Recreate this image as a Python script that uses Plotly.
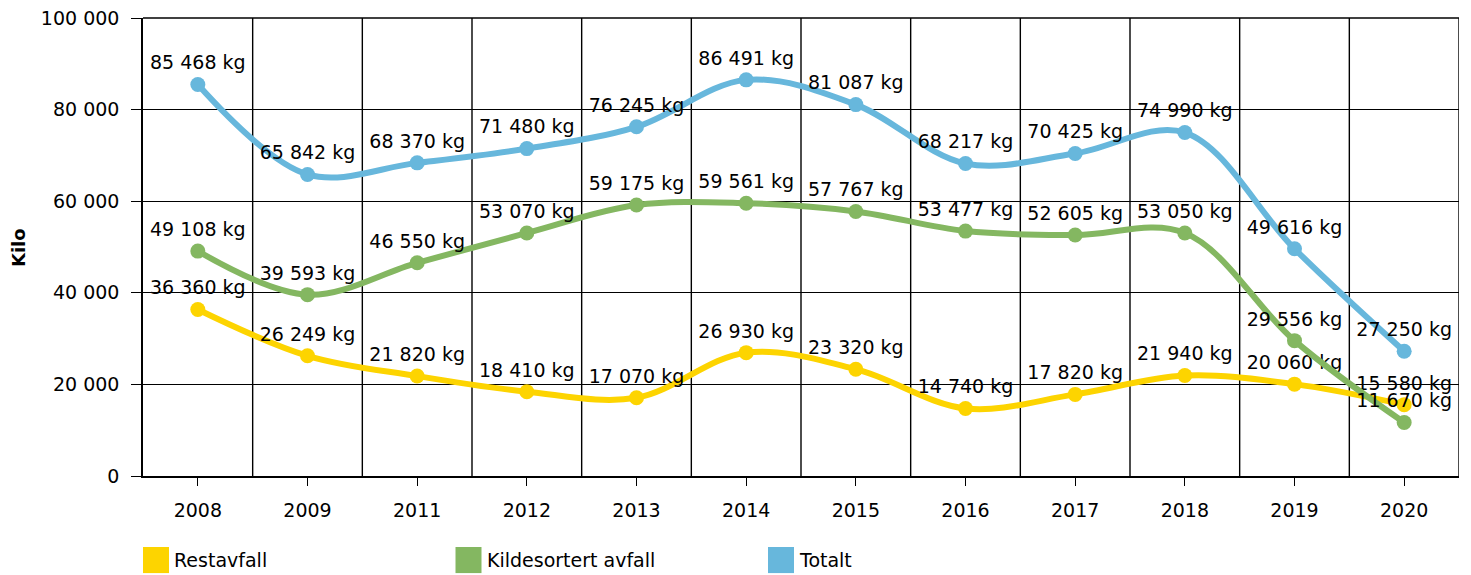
import plotly.graph_objects as go

years = ["2008", "2009", "2011", "2012", "2013", "2014", "2015", "2016", "2017", "2018", "2019", "2020"]
restavfall = [36360, 26249, 21820, 18410, 17070, 26930, 23320, 14740, 17820, 21940, 20060, 15580]
kildesortert = [49108, 39593, 46550, 53070, 59175, 59561, 57767, 53477, 52605, 53050, 29556, 11670]
totalt = [85468, 65842, 68370, 71480, 76245, 86491, 81087, 68217, 70425, 74990, 49616, 27250]

series_names = ["Restavfall", "Kildesortert avfall", "Totalt"]
series_values = [restavfall, kildesortert, totalt]
series_colors = ["#fdd400", "#84b761", "#67b7dc"]

FONT = "Verdana, DejaVu Sans, sans-serif"
PLOT_W = 1316  # plot area width in px, used for legend spacing


def fmt_kg(v):
    return f"{v:,}".replace(",", " ") + " kg"


fig = go.Figure()

for name, vals, color in zip(series_names, series_values, series_colors):
    fig.add_trace(
        go.Scatter(
            x=years,
            y=vals,
            name=name,
            mode="lines+markers+text",
            line=dict(color=color, width=6, shape="spline", smoothing=1.0),
            marker=dict(color=color, size=15),
            text=[fmt_kg(v) for v in vals],
            textposition="top center",
            textfont=dict(family=FONT, size=19, color="#000000"),
            cliponaxis=False,
            showlegend=False,
        )
    )

# Vertical grid lines at category boundaries + right border
shapes = []
for i in range(len(years)):
    shapes.append(
        dict(
            type="line", xref="x", yref="paper",
            x0=i + 0.5, x1=i + 0.5, y0=0, y1=1,
            line=dict(color="#000000", width=1.4),
            layer="below",
        )
    )
# top border (the 100 000 grid line)
shapes.append(
    dict(
        type="line", xref="paper", yref="paper",
        x0=0, x1=1, y0=1, y1=1,
        line=dict(color="#000000", width=1.4),
        layer="below",
    )
)

# Legend drawn as coloured squares with labels
annotations = []
legend_step = 312.5 / PLOT_W
for k, (name, color) in enumerate(zip(series_names, series_colors)):
    x0 = k * legend_step
    shapes.append(
        dict(
            type="rect", xref="paper", yref="paper",
            x0=x0, x1=x0 + 26 / PLOT_W, y0=-0.212, y1=-0.155,
            fillcolor=color, line=dict(width=0),
        )
    )
    annotations.append(
        dict(
            xref="paper", yref="paper",
            x=x0 + 29 / PLOT_W, y=-0.1835,
            xanchor="left", yanchor="middle",
            text=name, showarrow=False,
            font=dict(family=FONT, size=19, color="#000000"),
        )
    )

# Y axis title
annotations.append(
    dict(
        xref="paper", yref="paper",
        x=-125 / PLOT_W, y=0.5,
        xanchor="center", yanchor="middle",
        text="<b>Kilo</b>", textangle=-90, showarrow=False,
        font=dict(family=FONT, size=18, color="#000000"),
    )
)

fig.update_xaxes(
    type="category",
    range=[-0.5, len(years) - 0.5],
    showgrid=False,
    showline=True,
    linecolor="#000000",
    linewidth=2,
    ticks="outside",
    ticklen=8,
    tickcolor="#000000",
    tickwidth=1.4,
    ticklabelstandoff=8,
    tickfont=dict(family=FONT, size=19, color="#000000"),
    automargin=False,
)
fig.update_yaxes(
    range=[0, 100000],
    dtick=20000,
    tickformat=",d",
    showgrid=True,
    gridcolor="#000000",
    gridwidth=1.4,
    zeroline=False,
    showline=True,
    linecolor="#000000",
    linewidth=1.5,
    ticks="outside",
    ticklen=10,
    tickcolor="#000000",
    tickwidth=1.4,
    ticklabelstandoff=8,
    ticklabeloverflow="allow",
    tickfont=dict(family=FONT, size=19, color="#000000"),
    automargin=False,
)

fig.update_layout(
    width=1463,
    height=567,
    separators=". ",
    font=dict(family=FONT, color="#000000"),
    plot_bgcolor="white",
    paper_bgcolor="white",
    margin=dict(l=135, r=12, t=10, b=99),
    shapes=shapes,
    annotations=annotations,
)

fig.write_html("out.html")
